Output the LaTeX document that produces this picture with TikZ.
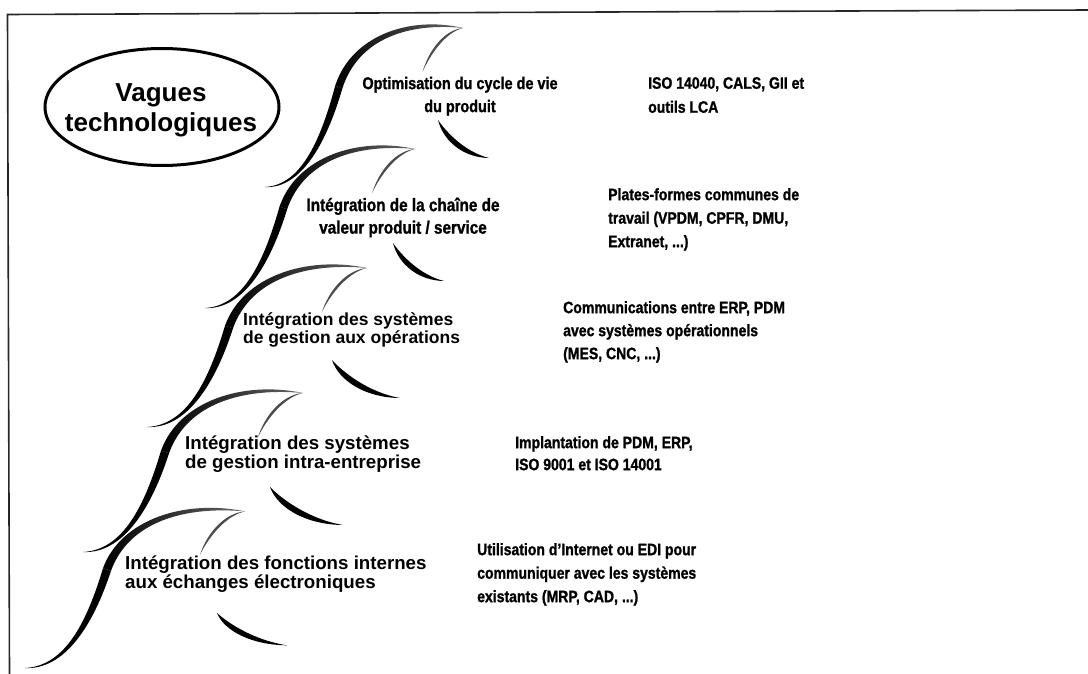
\documentclass[tikz,border=0pt]{standalone}
\usepackage{fontspec}
\setmainfont{Liberation Sans}
\newfontfamily\narrowsf[FakeStretch=0.85, FakeBold=1.2]{Liberation Sans}
\usetikzlibrary{shapes.geometric}

\tikzset{
  ink/.style={fill=black},
  crest/.style={left color=black, right color=black!60},
  lip/.style={fill=black!70},
  frame/.style={line width=1.6pt, black!85},
  oval/.style={draw, ellipse, line width=3pt, inner sep=0pt},
  % bold text, regular width: size / leading
  plain/.style 2 args={inner sep=0pt, align=left, anchor=north west,
    font=\bfseries\fontsize{#1}{#2}\selectfont},
  % bold text, condensed width: size / leading
  narrow/.style 2 args={inner sep=0pt, align=left, anchor=north west,
    font=\narrowsf\bfseries\fontsize{#1}{#2}\selectfont},
  % one breaking wave, drawn from the tip of its foot
  wave/.pic={
    % rising body
    \fill[ink] (0,0) .. controls (40,-2) and (61.6,-46.1) .. (78,-101.3)
      -- (86,-98.7) .. controls (68.4,-43.9) and (40,2) .. (0,0) -- cycle;
    % crest rolling over to the right
    \shade[crest] (78,-101.3) .. controls (96.05,-151.4) and (160.5,-171.5) .. (220,-159)
      .. controls (159.5,-164.5) and (103.95,-148.6) .. (86,-98.7) -- cycle;
    % thin lip falling back from the crest
    \fill[lip] (220,-159) .. controls (201.2,-154.8) and (184.2,-133.8) .. (175,-115)
      .. controls (181.8,-136.2) and (198.8,-157.2) .. (220,-159) -- cycle;
  },
  % trough stroke below each label
  trough/.pic={
    \fill[ink] (0,0) .. controls (7.7,21.4) and (36.6,37.7) .. (73,38)
      .. controls (39.4,32.3) and (12.3,12.6) .. (0,0) -- cycle;
  }
}

\begin{document}
\begin{tikzpicture}[x=1pt, y=-1pt]
\useasboundingbox (0,0) rectangle (1088,674);

% frame (top and left edges)
\coordinate (ftr) at (1088,10);
\coordinate (ftl) at (7.5,14.5);
\coordinate (fbl) at (9.5,674);
\draw[frame] (ftr) -- (ftl) -- (fbl);

% title
\node[oval, minimum width=234pt, minimum height=117pt] (ovl) at (162,107) {};
\node[plain={26}{30}, align=center, anchor=north] (title) at (161,83.4)
  {Vagues\\technologiques};

% waves, from the most recent (top) down to the oldest
\pic[xscale=0.9]   at (265,187) {wave};
\pic[xscale=0.955] at (205,308) {wave};
\pic               at (147,427) {wave};
\pic               at (83,552)  {wave};
\pic[yscale=0.985] at (25,668)  {wave};

\pic[xscale=0.7]              at (438,120) {trough};
\pic[xscale=0.7]              at (393,243) {trough};
\pic[xscale=0.93]             at (332,360) {trough};
\pic                          at (270,487) {trough};
\pic[xscale=0.96, yscale=0.85] at (217,613) {trough};

% wave labels
\node[narrow={17}{23}, align=center, anchor=north] (w1) at (460,76.6)
  {Optimisation du cycle de vie\\du produit};
\node[narrow={18}{22.5}, align=center, anchor=north] (w2) at (403,197.5)
  {Intégration de la chaîne de\\valeur produit / service};
\node[plain={17.5}{18.5}] (w3) at (243,312)
  {Intégration des systèmes\\de gestion aux opérations};
\node[plain={18.7}{18.5}] (w4) at (185,436)
  {Intégration des systèmes\\de gestion intra-entreprise};
\node[plain={18.7}{18.5}] (w5) at (125,556)
  {Intégration des fonctions internes\\aux échanges électroniques};

% technologies of each wave
\node[narrow={16.5}{24}] (t1) at (648,77)
  {ISO 14040, CALS, GII et\\outils LCA};
\node[narrow={16.5}{23.5}] (t2) at (608,188)
  {Plates-formes communes de\\travail (VPDM, CPFR, DMU,\\Extranet, ...)};
\node[narrow={16.5}{23}] (t3) at (563,301)
  {Communications entre ERP, PDM\\avec systèmes opérationnels\\(MES, CNC, ...)};
\node[narrow={16.5}{22}] (t4) at (515,436)
  {Implantation de PDM, ERP,\\ISO 9001 et ISO 14001};
\node[narrow={16.5}{23.5}] (t5) at (477,543)
  {Utilisation d’Internet ou EDI pour\\communiquer avec les systèmes\\existants (MRP, CAD, ...)};
\end{tikzpicture}
\end{document}
